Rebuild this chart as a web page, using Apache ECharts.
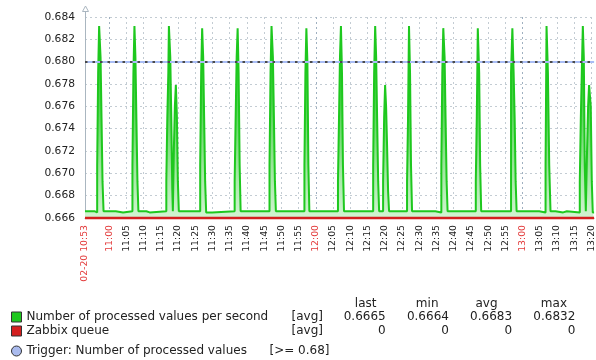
<!DOCTYPE html>
<html><head><meta charset="utf-8">
<script src="https://cdn.jsdelivr.net/npm/echarts@6/dist/echarts.min.js"></script>
<style>html,body{margin:0;padding:0;background:#fff}#c{width:596px;height:360px}</style>
</head><body><div id="c"></div>
<script>
// ---------- data ----------
const dateLabel = '02-20';
const xStart = '10:53:00';
const xEnd = '13:20:45';
const xTickLabels = ['10:53','11:00','11:05','11:10','11:15','11:20','11:25','11:30','11:35','11:40','11:45','11:50','11:55',
  '12:00','12:05','12:10','12:15','12:20','12:25','12:30','12:35','12:40','12:45','12:50','12:55',
  '13:00','13:05','13:10','13:15','13:20'];
const redTickLabels = ['10:53','11:00','12:00','13:00'];
const yMin = 0.666, yMax = 0.684, yStep = 0.002;

const npsName = 'Number of processed values per second';
const npsTimes = ['10:53:00','10:55:52','10:56:32','10:56:49','10:57:06','10:57:31','10:57:48','10:58:05','10:58:23','11:01:56','11:04:03',
 '11:06:46','11:07:03','11:07:21','11:07:38','11:07:55','11:08:13','11:08:30','11:10:49','11:11:46',
 '11:16:36','11:16:53','11:17:11','11:17:21','11:17:45','11:18:03','11:18:20','11:18:30','11:18:48','11:19:05','11:19:22','11:19:40','11:19:57','11:20:14',
 '11:26:26','11:26:43','11:27:00','11:27:18','11:27:35','11:27:52','11:28:10','11:29:54',
 '11:36:26','11:36:43','11:37:01','11:37:18','11:37:35','11:37:53','11:38:10',
 '11:46:33','11:46:51','11:47:08','11:47:32','11:47:50','11:48:07','11:48:24',
 '11:56:41','11:56:58','11:57:15','11:57:33','11:57:50','11:58:07',
 '12:06:25','12:06:43','12:07:00','12:07:17','12:07:35','12:07:52','12:08:10',
 '12:16:38','12:16:55','12:17:13','12:17:30','12:17:47','12:18:05','12:18:22','12:19:31','12:19:49','12:20:06','12:20:23','12:20:41','12:20:58','12:21:15',
 '12:26:28','12:26:45','12:27:02','12:27:20','12:27:37','12:27:55','12:34:41',
 '12:36:25','12:36:42','12:36:59','12:37:22','12:37:39','12:37:57','12:38:14',
 '12:46:25','12:46:42','12:47:00','12:47:24','12:47:41','12:47:59',
 '12:56:39','12:57:02','12:57:24','12:57:42','12:57:59','12:58:16','13:04:50',
 '13:06:40','13:06:57','13:07:21','13:07:44','13:08:06','13:08:41','13:09:11','13:09:33','13:11:47','13:12:51',
 '13:16:36','13:16:54','13:17:11','13:17:29','13:17:46','13:18:03','13:18:21','13:18:43','13:19:01','13:19:18','13:19:47','13:20:05','13:20:22','13:20:45'];
const npsValues = [0.6666,0.6665,0.6707,0.6790,0.6832,0.6804,0.6749,0.6693,0.6666,0.6665,0.6666,
 0.6707,0.6790,0.6832,0.6804,0.6749,0.6693,0.6666,0.6665,0.6666,
 0.6693,0.6749,0.6790,0.6832,0.6804,0.6749,0.6686,0.6666,0.6723,0.6760,0.6779,0.6751,0.6693,0.6666,
 0.6707,0.6790,0.6830,0.6804,0.6749,0.6693,0.6665,0.6666,
 0.6693,0.6749,0.6804,0.6830,0.6790,0.6707,0.6666,
 0.6707,0.6790,0.6832,0.6804,0.6749,0.6693,0.6666,
 0.6707,0.6790,0.6830,0.6799,0.6707,0.6666,
 0.6693,0.6749,0.6804,0.6832,0.6790,0.6707,0.6666,
 0.6707,0.6790,0.6832,0.6804,0.6749,0.6693,0.6666,0.6693,0.6750,0.6779,0.6760,0.6723,0.6684,0.6666,
 0.6693,0.6749,0.6832,0.6790,0.6707,0.6666,0.6665,
 0.6707,0.6790,0.6830,0.6804,0.6749,0.6693,0.6666,
 0.6693,0.6749,0.6830,0.6790,0.6707,0.6666,
 0.6790,0.6830,0.6790,0.6749,0.6693,0.6666,0.6665,
 0.6707,0.6832,0.6790,0.6707,0.6666,0.6665,0.6666,0.6665,0.6666,0.6665,
 0.6693,0.6749,0.6790,0.6832,0.6804,0.6707,0.6666,0.6722,0.6760,0.6779,0.6760,0.6693,0.6665,0.6665];

const queueName = 'Zabbix queue';
const queueTimes = ['10:53:00','13:20:45'];
const queueValues = [0, 0];

const triggerName = 'Trigger: Number of processed values';
const triggerCond = '[>= 0.68]';
const triggerValue = 0.68;

const statsHeader = ['last','min','avg','max'];
const npsStats = ['0.6665','0.6664','0.6683','0.6832'];
const queueStats = ['0','0','0','0'];
const funcLabel = '[avg]';

// ---------- helpers ----------
function toSec(s){const p=s.split(':').map(Number);return p[0]*3600+p[1]*60+(p[2]||0);}
function secToHM(v){const h=Math.floor(v/3600),m=Math.floor((v%3600)/60);return String(h).padStart(2,'0')+':'+String(m).padStart(2,'0');}
const FONT='DejaVu Sans';
const xMin=toSec(xStart), xMax=toSec(xEnd);
const tickVals=xTickLabels.map(toSec);

const chart = echarts.init(document.getElementById('c'), null, {renderer:'canvas'});
const gridCol='#c3ccd3', hourCol='#9fb0c0';
const splitColors=[gridCol,hourCol,gridCol,gridCol,gridCol,gridCol,gridCol,gridCol,gridCol,gridCol,gridCol,gridCol];

const headerRight=[376.5,438.5,497.5,567];

chart.setOption({
  animation:false,
  backgroundColor:'#ffffff',
  grid:{left:85,right:0,top:17,bottom:142,containLabel:false},
  xAxis:{
    type:'value', min:xMin, max:xMax, offset:1,
    axisLine:{show:true,lineStyle:{color:'#aab6c0',width:1}},
    axisTick:{show:false,customValues:tickVals},
    splitLine:{show:true,lineStyle:{color:splitColors,type:[2,3],width:1}},
    axisLabel:{
      customValues:tickVals, rotate:90, margin:6, fontSize:9.3, fontFamily:FONT, color:'#222',
      formatter:function(v){
        const lbl=secToHM(v);
        const txt=(v===xMin)?dateLabel+' '+lbl:lbl;
        return redTickLabels.indexOf(lbl)>=0?'{r|'+txt+'}':'{k|'+txt+'}';
      },
      rich:{r:{color:'#e33b3b',fontSize:9.3,fontFamily:FONT},k:{color:'#222',fontSize:9.3,fontFamily:FONT}}
    }
  },
  yAxis:[{
    type:'value', min:yMin, max:yMax, interval:yStep,
    axisLine:{show:true,lineStyle:{color:'#aab6c0',width:1}},
    axisTick:{show:false},
    splitLine:{show:true,lineStyle:{color:gridCol,type:[2,3],width:1}},
    axisLabel:{margin:10,fontSize:10.7,fontFamily:FONT,color:'#222',formatter:function(v){return v.toFixed(3);}}
  },{
    type:'value', min:0, max:1, show:false, splitLine:{show:false}
  }],
  legend:[{
    orient:'vertical', left:11, top:310, padding:0, itemGap:0, itemWidth:10, itemHeight:10,
    selectedMode:false,
    data:[
      {name:npsName, icon:'rect', itemStyle:{color:'#1ec81e',borderColor:'#333',borderWidth:1}},
      {name:queueName, icon:'rect', itemStyle:{color:'#d41f1f',borderColor:'#333',borderWidth:1}}
    ],
    formatter:function(name){
      const st=name===npsName?npsStats:queueStats;
      return '{a|'+name+'}{b|'+funcLabel+'}'+st.map(s=>'{c|'+s+'}').join('');
    },
    textStyle:{fontFamily:FONT,fontSize:12,color:'#222',lineHeight:14,
      rich:{a:{width:265,fontFamily:FONT,fontSize:12,color:'#222',lineHeight:14},
            b:{width:31,fontFamily:FONT,fontSize:12,color:'#222',lineHeight:14},
            c:{width:63.2,align:'right',fontFamily:FONT,fontSize:12,color:'#222',lineHeight:14}}}
  },{
    orient:'vertical', left:11, top:344, padding:0, itemGap:0, itemWidth:10, itemHeight:10,
    selectedMode:false,
    data:[{name:triggerName, icon:'circle', itemStyle:{color:'#aabbee',borderColor:'#333',borderWidth:1}}],
    formatter:function(name){return '{a|'+name+'}{b|'+triggerCond+'}';},
    textStyle:{fontFamily:FONT,fontSize:12,color:'#222',lineHeight:14,
      rich:{a:{width:243,fontFamily:FONT,fontSize:12,color:'#222',lineHeight:14},
            b:{fontFamily:FONT,fontSize:12,color:'#222',lineHeight:14}}}
  }],
  graphic:[
    {type:'line',shape:{x1:85.5,y1:11,x2:85.5,y2:17.5},style:{stroke:'#aab6c0',lineWidth:1},silent:true},
    {type:'polygon',shape:{points:[[82.5,11.5],[88.5,11.5],[85.5,6]]},style:{stroke:'#aab6c0',fill:'#fff',lineWidth:1},silent:true}
  ].concat(statsHeader.map((h,i)=>({type:'text',x:headerRight[i],y:303.5,silent:true,
      style:{text:h,fill:'#222',font:'12px "DejaVu Sans"',align:'right',verticalAlign:'middle'}}))),
  series:[{
    name:npsName, type:'line', step:'end', showSymbol:false, z:2,
    data:npsTimes.map((t,i)=>[toSec(t),npsValues[i]]),
    lineStyle:{color:'#1ec81e',width:2},
    itemStyle:{color:'#1ec81e'},
    areaStyle:{opacity:1,color:{type:'linear',x:0,y:17,x2:0,y2:218,global:true,colorStops:[
      {offset:0,color:'#05c005'},{offset:0.45,color:'#55d455'},{offset:0.78,color:'#a4e8a4'},{offset:1,color:'#d2f4d2'}]}}
  },{
    name:queueName, type:'line', yAxisIndex:1, showSymbol:false, clip:false, z:3,
    data:queueTimes.map((t,i)=>[toSec(t),queueValues[i]]),
    lineStyle:{color:'#d41f1f',width:2.3}, itemStyle:{color:'#d41f1f'}
  },{
    name:triggerName, type:'line', data:[], z:4, itemStyle:{color:'#aabbee'},
    markLine:{silent:true,symbol:'none',label:{show:false},animation:false,
      data:[
        {yAxis:triggerValue,lineStyle:{color:'#a9bdf5',type:'solid',width:2}},
        {yAxis:triggerValue,lineStyle:{color:'#4a4a4a',type:[2.5,5],width:2}}
      ]}
  }]
});
</script></body></html>
